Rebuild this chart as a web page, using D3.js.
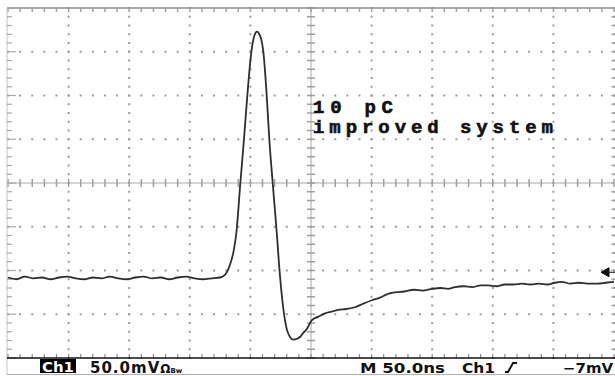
<!DOCTYPE html>
<html>
<head>
<meta charset="utf-8">
<script src="https://cdn.jsdelivr.net/npm/d3@7"></script>
<style>
  html, body { margin: 0; padding: 0; background: #fff; }
  svg { display: block; }
</style>
</head>
<body>
<div id="chart"></div>
<script>
// scope capture: time in ns from left edge, voltage in mV from centre line
const timeDomain = [0, 500];      // 10 div x 50 ns
const voltDomain = [-200, 200];   // 8 div x 50 mV
const timeMajorStep = 50, timeMinorStep = 10;
const voltMajorStep = 50, voltMinorStep = 10;

const baseline = [
  [0,-108],[7,-110],[14,-107],[21,-109],[28,-108],[35,-110],[42,-108],[49,-107],
  [56,-109],[63,-110],[70,-108],[77,-109],[84,-107],[91,-109],[98,-110],[105,-108],
  [112,-107],[119,-109],[126,-108],[133,-110],[140,-108],[147,-107],[154,-109],
  [161,-110],[168,-109],[175,-108]
];
const pulse = [
  [179,-105],[183,-94],[186,-79],[188.5,-56],[191.7,0],[194.7,50],[197.4,99],
  [200.9,151],[202.6,165],[204,171],[205.5,173],[207,171],[208.8,165],[210.6,151],
  [213.5,99],[215.6,50],[218.4,0],[221.7,-56],[224.4,-106],[227.2,-144],[230,-167],
  [232.7,-176],[235.4,-179],[238.5,-178],[240.9,-176],[243.8,-171],[246.5,-167],
  [250.6,-157],[255.8,-153]
];
const tail = [
  [261.6,-149],[267,-147],[272.3,-145],[279,-144],[286.3,-142],[293,-138],[300.3,-134],
  [307,-131],[313,-127],[319.3,-125],[327,-124],[335,-122],[342,-123],[349.8,-121],
  [357,-120],[363,-121],[368.8,-119],[376,-118],[383,-119],[390,-117],[396,-117],
  [403,-118],[410,-116],[417,-116],[424,-115],[431,-116],[438,-115],[445,-116],
  [451,-114],[457,-113],[464,-115],[471,-114],[478,-115],[486.8,-115],[493,-114],[500,-113]
];
const triggerLevel = -102;

const noteLines = ["10 pC", "improved system"];
const statusLeft = { ch: "Ch1", scale: "50.0mV", unit: "Ω", bw: "Bw" };
const statusRight = { time: "M 50.0ns", src: "Ch1", level: "\u22127mV" };

const W = 615, H = 376;
const x = d3.scaleLinear().domain(timeDomain).range([8, 614]);
const y = d3.scaleLinear().domain(voltDomain).range([358, 8]);

const svg = d3.select("#chart").append("svg")
  .attr("width", W).attr("height", H)
  .attr("viewBox", `0 0 ${W} ${H}`);

const timeMinor = d3.range(timeDomain[0], timeDomain[1] + 1, timeMinorStep);
const voltMinor = d3.range(voltDomain[0], voltDomain[1] + 1, voltMinorStep);
const timeMajor = d3.range(timeDomain[0], timeDomain[1] + 1, timeMajorStep);
const voltMajor = d3.range(voltDomain[0], voltDomain[1] + 1, voltMajorStep);

const grid = svg.append("g");
const dotColor = "#9c9c9c";

// dotted horizontal lines
voltMajor.filter(v => v !== 0 && v !== voltDomain[0] && v !== voltDomain[1]).forEach(v => {
  grid.selectAll(null).data(timeMinor).enter().append("rect")
    .attr("x", d => x(d) - 1).attr("y", y(v) - 1)
    .attr("width", 2).attr("height", 2).attr("fill", dotColor);
});
// dotted vertical lines
timeMajor.filter(t => t !== 250 && t !== 0).forEach(t => {
  grid.selectAll(null).data(voltMinor).enter().append("rect")
    .attr("x", x(t) - 1).attr("y", d => y(d) - 1)
    .attr("width", 2).attr("height", 2).attr("fill", dotColor);
});

// centre cross with minor ticks
const cx = x(250), cy = y(0);
grid.append("line").attr("x1", x(0)).attr("x2", W).attr("y1", cy).attr("y2", cy)
  .attr("stroke", "#a8a8a8").attr("stroke-width", 1);
grid.append("line").attr("x1", cx).attr("x2", cx).attr("y1", y(200)).attr("y2", y(-200))
  .attr("stroke", "#a8a8a8").attr("stroke-width", 1);
grid.selectAll(null).data(timeMinor).enter().append("line")
  .attr("x1", d => x(d)).attr("x2", d => x(d))
  .attr("y1", cy - 4).attr("y2", cy + 4)
  .attr("stroke", "#a0a0a0").attr("stroke-width", 1.5);
grid.selectAll(null).data(voltMinor).enter().append("line")
  .attr("x1", cx - 4).attr("x2", cx + 4)
  .attr("y1", d => y(d)).attr("y2", d => y(d))
  .attr("stroke", "#a0a0a0").attr("stroke-width", 1.5);

// frame: top, left, right ticks
grid.append("line").attr("x1", 7).attr("x2", W).attr("y1", y(200)).attr("y2", y(200))
  .attr("stroke", "#8c8c8c").attr("stroke-width", 1.5);
grid.selectAll(null).data(timeMinor).enter().append("line")
  .attr("x1", d => x(d)).attr("x2", d => x(d))
  .attr("y1", y(200)).attr("y2", y(200) + 4)
  .attr("stroke", "#a0a0a0").attr("stroke-width", 1.5);
grid.append("line").attr("x1", 7).attr("x2", 7).attr("y1", y(200)).attr("y2", H - 1)
  .attr("stroke", "#c4c4c4").attr("stroke-width", 1);
grid.selectAll(null).data(voltMinor).enter().append("line")
  .attr("x1", 7).attr("x2", d => d % voltMajorStep === 0 ? 16 : 12)
  .attr("y1", d => y(d)).attr("y2", d => y(d))
  .attr("stroke", "#a8a8a8").attr("stroke-width", 1.2);
grid.selectAll(null).data(voltMinor).enter().append("line")
  .attr("x1", W).attr("x2", W - 4)
  .attr("y1", d => y(d)).attr("y2", d => y(d))
  .attr("stroke", "#a8a8a8").attr("stroke-width", 1.2);

// bottom frame line with ticks
grid.selectAll(null).data(timeMinor).enter().append("line")
  .attr("x1", d => x(d)).attr("x2", d => x(d))
  .attr("y1", y(-200)).attr("y2", y(-200) - 4)
  .attr("stroke", "#8c8c8c").attr("stroke-width", 1.2);
grid.append("line").attr("x1", 7).attr("x2", W).attr("y1", y(-200)).attr("y2", y(-200))
  .attr("stroke", "#111").attr("stroke-width", 1.6);
grid.append("line").attr("x1", 7).attr("x2", W).attr("y1", H - 1.5).attr("y2", H - 1.5)
  .attr("stroke", "#b0b0b0").attr("stroke-width", 1);

// trace
const line = d3.line().x(d => x(d[0])).y(d => y(d[1])).curve(d3.curveMonotoneX);
svg.append("path")
  .datum(baseline.concat(pulse, tail))
  .attr("fill", "none").attr("stroke", "#2e2e2e")
  .attr("stroke-width", 1.8).attr("stroke-linejoin", "round")
  .attr("d", line);

// trigger level marker
const ty = y(triggerLevel);
svg.append("path")
  .attr("d", `M${W - 14},${ty} L${W - 6},${ty - 4.5} L${W - 6},${ty + 4.5} Z M${W - 6},${ty} L${W},${ty}`)
  .attr("fill", "#111").attr("stroke", "#111").attr("stroke-width", 1);

// annotation
const note = svg.append("g")
  .attr("font-family", "'Liberation Mono', 'Courier New', monospace")
  .attr("font-weight", "bold").attr("font-size", 19).attr("fill", "#111")
  .attr("stroke", "#111").attr("stroke-width", 0.6);
note.append("text").attr("x", 313).attr("y", 113)
  .attr("textLength", 80).attr("lengthAdjust", "spacing").text(noteLines[0]);
note.append("text").attr("x", 313).attr("y", 133)
  .attr("textLength", 240).attr("lengthAdjust", "spacing").text(noteLines[1]);

// status bar
const status = svg.append("g")
  .attr("font-family", "'DejaVu Sans', Verdana, sans-serif")
  .attr("font-weight", "bold").attr("font-size", 14).attr("fill", "#111");
status.append("rect").attr("x", 40).attr("y", 359).attr("width", 36).attr("height", 14).attr("fill", "#000");
status.append("text").attr("x", 42).attr("y", 372).attr("fill", "#fff")
  .attr("textLength", 32).attr("lengthAdjust", "spacingAndGlyphs").text(statusLeft.ch);
const scale = status.append("text").attr("x", 90).attr("y", 373);
scale.append("tspan").attr("font-size", 15).attr("letter-spacing", 1).text(statusLeft.scale);
scale.append("tspan").attr("font-size", 12).text(statusLeft.unit);
scale.append("tspan").attr("font-size", 7).text(statusLeft.bw);
status.append("text").attr("x", 360).attr("y", 373)
  .attr("textLength", 85).attr("lengthAdjust", "spacingAndGlyphs").text(statusRight.time);
status.append("text").attr("x", 462).attr("y", 373)
  .attr("textLength", 33).attr("lengthAdjust", "spacingAndGlyphs").text(statusRight.src);
status.append("path").attr("d", "M505,372 L508,372 L513,363 L517,363")
  .attr("fill", "none").attr("stroke", "#111").attr("stroke-width", 2);
status.append("text").attr("x", 563).attr("y", 373)
  .attr("textLength", 50).attr("lengthAdjust", "spacingAndGlyphs").text(statusRight.level);
</script>
</body>
</html>
